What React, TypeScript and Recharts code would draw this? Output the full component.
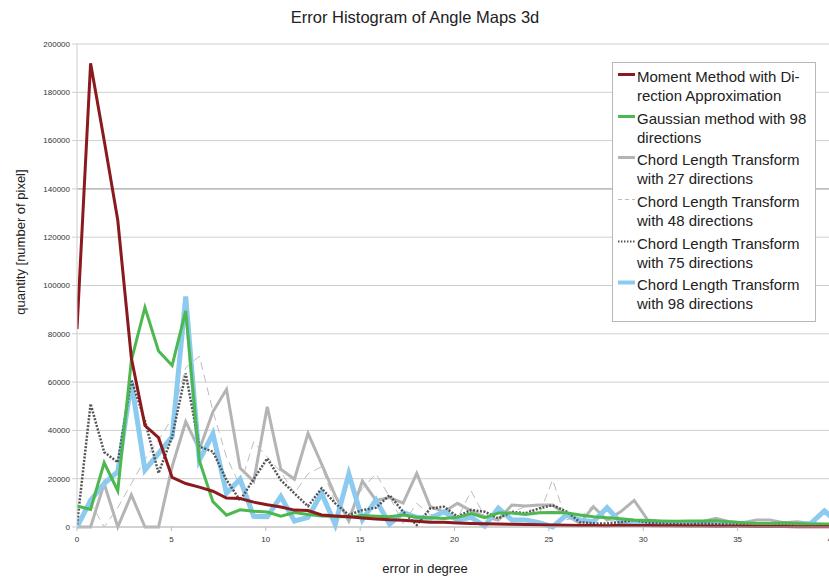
import React from 'react';
import { LineChart, Line, XAxis, YAxis, CartesianGrid, Legend, ReferenceLine } from 'recharts';

// error bins in degree (bin width 0.72)
const degrees = [
  0, 0.72, 1.44, 2.16, 2.88, 3.6, 4.32, 5.04, 5.76, 6.48,
  7.2, 7.92, 8.64, 9.36, 10.08, 10.8, 11.52, 12.24, 12.96, 13.68,
  14.4, 15.12, 15.84, 16.56, 17.28, 18, 18.72, 19.44, 20.16, 20.88,
  21.6, 22.32, 23.04, 23.76, 24.48, 25.2, 25.92, 26.64, 27.36, 28.08,
  28.8, 29.52, 30.24, 30.96, 31.68, 32.4, 33.12, 33.84, 34.56, 35.28,
  36, 36.72, 37.44, 38.16, 38.88, 39.6, 40.32,
];

const momentMethod = [
  82000, 192000, 160000, 127000, 70000, 42000, 37000, 20500, 18000, 16500,
  14800, 12000, 11800, 10300, 9200, 8300, 7000, 6800, 5000, 4600,
  4200, 3700, 3300, 3000, 2800, 2400, 2000, 2000, 1700, 1500,
  1300, 1200, 1100, 1000, 900, 800, 700, 600, 600, 500,
  700, 600, 600, 500, 500, 400, 400, 300, 300, 300,
  200, 200, 200, 150, 100, 100, 100,
];

const gaussian98 = [
  8700, 7300, 26600, 15000, 69000, 90900, 72900, 66900, 89500, 27600,
  10500, 4900, 7100, 6500, 6200, 4500, 6000, 5200, 4600, 4300,
  4100, 4800, 4500, 4200, 5000, 4000, 3800, 3500, 4000, 5600,
  3900, 5800, 5800, 5200, 5900, 6000, 5900, 5000, 4200, 3800,
  3400, 2900, 2700, 2500, 2400, 2500, 2500, 2600, 2200, 1800,
  1500, 1500, 1800, 1500, 1200, 1200, 1200,
];

const chord27 = [
  0, 0, 18000, 0, 13300, 0, 0, 25000, 43600, 32000,
  47700, 57000, 24400, 18900, 49800, 23900, 19800, 38800, 26000, 13000,
  2500, 19000, 11000, 12200, 9900, 22200, 8400, 6300, 9800, 6700,
  4300, 2900, 9100, 8700, 9100, 9100, 5000, 1500, 8400, 2900,
  6300, 11000, 2900, 2200, 2200, 2200, 2200, 3600, 2200, 1800,
  2900, 2900, 1800, 2200, 1500, 1000, 1000,
];

const chord48 = [
  0, 10000, 0, 8000, 18000, 28000, 36000, 45000, 66000, 70700,
  48000, 29000, 17000, 35300, 29000, 22800, 14000, 22000, 25000, 10000,
  5000, 16000, 22000, 12500, 1500, 9800, 5000, 6300, 3600, 14900,
  4300, 2900, 6300, 8400, 5000, 19500, 3000, 4000, 9000, 3000,
  2000, 2500, 2000, 1500, 1500, 1200, 1500, 1200, 1500, 1200,
  1000, 1200, 1000, 1000, 800, 800, 800,
];

const chord75 = [
  1000, 51000, 31000, 26800, 61000, 44000, 22300, 37400, 63600, 33300,
  31200, 19500, 11000, 19800, 28400, 19400, 13900, 8600, 16000, 9800,
  5000, 7000, 8000, 13200, 6300, 800, 7700, 8400, 4300, 7100,
  6300, 3600, 6300, 5700, 7700, 9000, 6500, 2000, 1500, 1500,
  2000, 2900, 1800, 1500, 1200, 1200, 1500, 1200, 1000, 1200,
  1500, 1200, 1000, 1000, 800, 800, 800,
];

const chord98 = [
  0, 11000, 18000, 22900, 60000, 23600, 30500, 37400, 95500, 27600,
  38600, 14000, 19800, 4400, 4300, 12600, 2500, 4000, 14000, 1000,
  22000, 3000, 11200, 1200, 6000, 4000, 3600, 6300, 2900, 4000,
  400, 7800, 2900, 2900, 1800, 0, 4900, 2900, 2200, 8000,
  2000, 2200, 1500, 1500, 800, 1000, 1500, 800, 1200, 1500,
  1000, 800, 1200, 1000, 1500, 6700, 1500,
];

const xTicks = [0, 5, 10, 15, 20, 25, 30, 35, 40];
const yTicks = [0, 20000, 40000, 60000, 80000, 100000, 120000, 140000, 160000, 180000, 200000];

const data = degrees.map((deg, i) => ({
  deg,
  moment: momentMethod[i],
  gauss: gaussian98[i],
  c27: chord27[i],
  c48: chord48[i],
  c75: chord75[i],
  c98: chord98[i],
}));

const FONT = '"Liberation Sans", Arial, sans-serif';

const series = [
  { key: 'moment', lines: ['Moment Method with Di-', 'rection Approximation'], color: '#8a1a1e', width: 3, dash: undefined },
  { key: 'gauss', lines: ['Gaussian method with 98', 'directions'], color: '#4cb84f', width: 3, dash: undefined },
  { key: 'c27', lines: ['Chord Length Transform', 'with 27 directions'], color: '#b4b4b4', width: 3, dash: undefined },
  { key: 'c48', lines: ['Chord Length Transform', 'with 48 directions'], color: '#bdbdbd', width: 1, dash: '4 3' },
  { key: 'c75', lines: ['Chord Length Transform', 'with 75 directions'], color: '#555555', width: 2, dash: '1.5 1.5' },
  { key: 'c98', lines: ['Chord Length Transform', 'with 98 directions'], color: '#8ccbef', width: 4, dash: undefined },
];

const LegendBox = () => (
  <div
    style={{
      width: 204,
      height: 260,
      boxSizing: 'border-box',
      border: '1px solid #b8b8b8',
      background: '#fff',
      padding: '4px 0 0 5px',
      fontFamily: FONT,
      fontSize: 15,
      color: '#222',
    }}
  >
    {series.map((s) => (
      <div key={s.key} style={{ display: 'flex', height: 41.7 }}>
        <svg width={19} height={19} style={{ flex: 'none' }}>
          <line x1={0} x2={17} y1={7.5} y2={7.5} stroke={s.color} strokeWidth={s.width} strokeDasharray={s.dash} />
        </svg>
        <div style={{ lineHeight: '19px', whiteSpace: 'nowrap' }}>
          {s.lines[0]}
          <br />
          {s.lines[1]}
        </div>
      </div>
    ))}
  </div>
);

// plotting order (back to front)
const drawOrder = ['c27', 'c48', 'c98', 'c75', 'gauss', 'moment'];

export default function App() {
  return (
    <div
      style={{
        position: 'absolute',
        left: 0,
        top: 0,
        width: 829,
        height: 579,
        overflow: 'hidden',
        background: '#fff',
        fontFamily: FONT,
      }}
    >
      <LineChart width={850} height={579} data={data} margin={{ top: 44, right: 18, bottom: 22, left: 0 }}>
        <CartesianGrid vertical={false} stroke="#cfcfcf" />
        <XAxis
          dataKey="deg"
          type="number"
          domain={[0, 40]}
          allowDataOverflow
          ticks={xTicks}
          height={30}
          tickSize={4}
          tickMargin={5}
          stroke="#bdbdbd"
          tick={{ fontSize: 8, fill: '#333', fontFamily: FONT }}
        />
        <YAxis
          type="number"
          domain={[0, 200000]}
          ticks={yTicks}
          width={77}
          tickSize={5}
          tickMargin={2}
          stroke="#cfcfcf"
          tick={{ fontSize: 8, fill: '#333', fontFamily: FONT }}
        />
        <ReferenceLine y={140000} stroke="#a6a6a6" />
        {drawOrder.map((k) => {
          const s = series.find((x) => x.key === k)!;
          return (
            <Line
              key={k}
              type="linear"
              dataKey={k}
              stroke={s.color}
              strokeWidth={k === 'c98' ? 5 : k === 'c75' ? 2.5 : s.width}
              strokeDasharray={k === 'c48' ? '8 5' : k === 'c75' ? '2 1.5' : undefined}
              dot={false}
              activeDot={false}
              isAnimationActive={false}
            />
          );
        })}
        <Legend
          layout="vertical"
          align="center"
          verticalAlign="middle"
          content={() => <LegendBox />}
          wrapperStyle={{ left: 612, top: 62, width: 204, height: 260 }}
        />
      </LineChart>

      <div
        style={{
          position: 'absolute',
          left: 0,
          top: 8,
          width: 830,
          textAlign: 'center',
          fontSize: 16.5,
          color: '#222',
        }}
      >
        Error Histogram of Angle Maps 3d
      </div>
      <div
        style={{
          position: 'absolute',
          left: 20,
          top: 242,
          transform: 'translate(-50%, -50%) rotate(-90deg)',
          whiteSpace: 'nowrap',
          fontSize: 13,
          color: '#222',
        }}
      >
        quantity [number of pixel]
      </div>
      <div
        style={{
          position: 'absolute',
          left: 425,
          top: 568,
          transform: 'translate(-50%, -50%)',
          whiteSpace: 'nowrap',
          fontSize: 13,
          color: '#222',
        }}
      >
        error in degree
      </div>
    </div>
  );
}
